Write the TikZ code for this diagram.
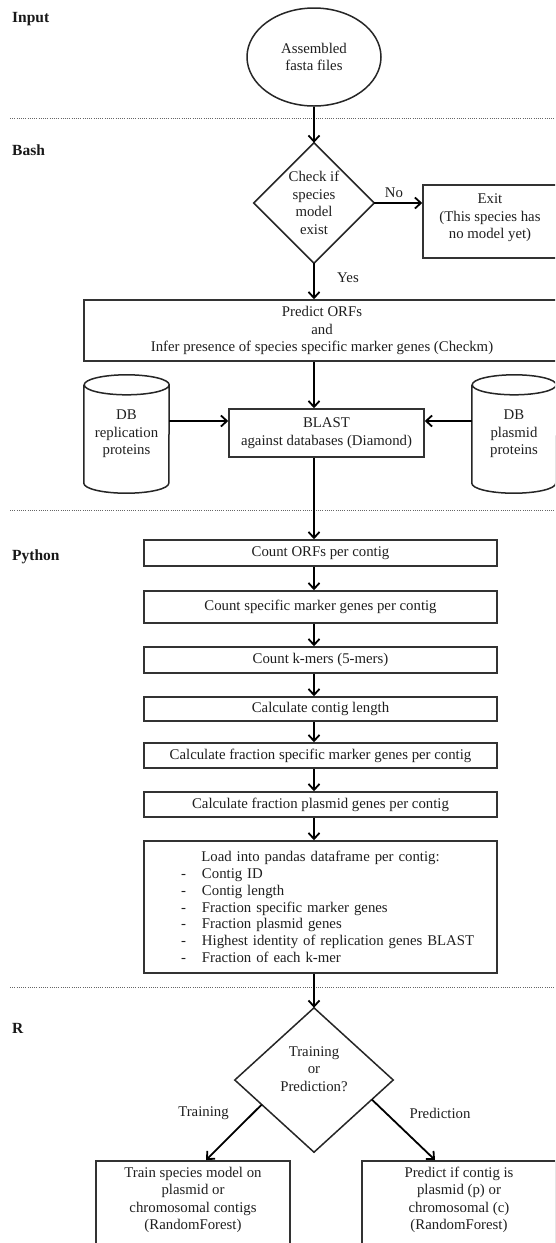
\documentclass[tikz,border=0pt]{standalone}
\usepackage{fontspec}
\setmainfont{Liberation Serif}
\usetikzlibrary{arrows.meta,calc,shapes.geometric}
\begin{document}
\begin{tikzpicture}[x=1pt,y=-1pt,
  base/.style={font=\fontsize{14.8pt}{17.5pt}\selectfont, text=black!88, inner sep=0pt, align=center},
  box/.style={base, draw=black!80, line width=1.5pt, rectangle},
  lbl/.style={font=\bfseries\fontsize{15.5pt}{18pt}\selectfont, text=black!90, anchor=west, inner sep=0pt},
  arr/.style={-{Straight Barb[length=6pt,width=11pt]}, line width=1.8pt, black},
  sep/.style={line width=1pt, dash pattern=on 1pt off 1.2pt, black!60},
  shapeline/.style={draw=black!85, line width=1.5pt}
]
\useasboundingbox (0,0) rectangle (555,1243);
\clip (0,0) rectangle (555,1243);
\fill[white] (0,0) rectangle (555,1243);

% lane labels
\node[lbl] (lin) at (12,19) {Input};
\node[lbl] (lbash) at (12,150) {Bash};
\node[lbl] (lpy) at (12,557) {Python};
\node[lbl] (lr) at (12,1028) {R};

% separators
\coordinate (s1l) at (10,118); \coordinate (s1r) at (555,118);
\coordinate (s2l) at (10,510); \coordinate (s2r) at (555,510);
\coordinate (s3l) at (10,987); \coordinate (s3r) at (555,987);
\draw[sep] (s1l) -- (s1r);
\draw[sep] (s2l) -- (s2r);
\draw[sep] (s3l) -- (s3r);

% axis helpers
\coordinate (ax) at (314,0);
\coordinate (ay) at (0,421);

% Input
\node[base, ellipse, draw=black!85, line width=1.5pt, minimum width=134pt, minimum height=98pt] (fasta) at (314,57) {Assembled\\fasta files};

% Bash
\node[base, minimum width=120pt, minimum height=120pt] (chk) at (314,203) {Check if\\species\\model\\exist};
\draw[shapeline] (chk.north) -- (chk.east) -- (chk.south) -- (chk.west) -- cycle;

\node[box, minimum width=134pt, minimum height=73pt] (exit) at (490,221.5) {};
\node[base] (exitT) at (490,218) {Exit\\(This species has\\no model yet)};
\node[base] (no) at (394,193) {No};
\node[base] (yes) at (348,278) {Yes};

\node[box, minimum width=476pt, minimum height=61pt] (orf) at (322,330.5) {Predict ORFs\\and\\Infer presence of species specific marker genes (Checkm)};

\node[base, minimum width=85pt, minimum height=118pt] (dbl) at (126.5,434) {DB\\replication\\proteins};
\node[base, minimum width=84pt, minimum height=118pt] (dbr) at (514,434) {DB\\plasmid\\proteins};
\draw[shapeline] ([yshift=-10pt]dbl.north west) -- ([yshift=10pt]dbl.south west)
  arc[start angle=180,end angle=360,x radius=42.5pt,y radius=10pt]
  -- ([yshift=-10pt]dbl.north east)
  arc[start angle=0,end angle=180,x radius=42.5pt,y radius=10pt]
  arc[start angle=180,end angle=360,x radius=42.5pt,y radius=10pt];
\draw[shapeline] ([yshift=-10pt]dbr.north west) -- ([yshift=10pt]dbr.south west)
  arc[start angle=180,end angle=360,x radius=42pt,y radius=10pt]
  -- ([yshift=-10pt]dbr.north east)
  arc[start angle=0,end angle=180,x radius=42pt,y radius=10pt]
  arc[start angle=180,end angle=360,x radius=42pt,y radius=10pt];

\node[box, minimum width=195pt, minimum height=48pt] (blast) at (326.5,433) {BLAST\\against databases (Diamond)};

% Python
\node[box, minimum width=353pt, minimum height=26pt] (c1) at (320.5,553) {Count ORFs per contig};
\node[box, minimum width=353pt, minimum height=32pt] (c2) at (320.5,607) {Count specific marker genes per contig};
\node[box, minimum width=353pt, minimum height=26pt] (c3) at (320.5,660) {Count k-mers (5-mers)};
\node[box, minimum width=353pt, minimum height=24pt] (c4) at (320.5,709) {Calculate contig length};
\node[box, minimum width=353pt, minimum height=25pt] (c5) at (320.5,755.5) {Calculate fraction specific marker genes per contig};
\node[box, minimum width=353pt, minimum height=25pt] (c6) at (320.5,804.5) {Calculate fraction plasmid genes per contig};
\node[box, minimum width=353pt, minimum height=132pt, text width=353pt, align=left,
      font=\fontsize{14.8pt}{16.8pt}\selectfont] (load) at (320.5,907) {%
\centerline{Load into pandas dataframe per contig:}
\hspace*{37pt}\makebox[21pt][l]{-}Contig ID\\
\hspace*{37pt}\makebox[21pt][l]{-}Contig length\\
\hspace*{37pt}\makebox[21pt][l]{-}Fraction specific marker genes\\
\hspace*{37pt}\makebox[21pt][l]{-}Fraction plasmid genes\\
\hspace*{37pt}\makebox[21pt][l]{-}Highest identity of replication genes BLAST\\
\hspace*{37pt}\makebox[21pt][l]{-}Fraction of each k-mer};

% R
\node[minimum width=158pt, minimum height=144pt, inner sep=0pt] (dec) at (314,1080) {};
\draw[shapeline] (dec.north) -- (dec.east) -- (dec.south) -- (dec.west) -- cycle;
\node[base] (decT) at (314,1069) {Training\\or\\Prediction?};

\node[box, minimum width=194pt, minimum height=110pt, anchor=north] (train) at (193,1160) {};
\node[base] (trainT) at (193,1200) {Train species model on\\plasmid or\\chromosomal contigs\\(RandomForest)};
\node[box, minimum width=194pt, minimum height=110pt, anchor=north] (pred) at (459,1160) {};
\node[base] (predT) at (459,1200) {Predict if contig is\\plasmid (p) or\\chromosomal (c)\\(RandomForest)};

\node[base] (ltrain) at (203.5,1113) {Training};
\node[base] (lpred) at (440,1113) {Prediction};

\coordinate (tl) at ($(dec.west)!0.34!(dec.south)$);
\coordinate (tr) at ($(dec.east)!0.27!(dec.south)$);

% connectors
\draw[arr] (fasta.south) -- (chk.north);
\draw[arr] (chk.east) -- (chk.east -| exit.west);
\draw[arr] (chk.south) -- (chk.south |- orf.north);
\draw[arr] (orf.south -| ax) -- (blast.north -| ax);
\draw[arr] (dbl.east |- ay) -- (blast.west |- ay);
\draw[arr] (dbr.west |- ay) -- (blast.east |- ay);
\draw[arr] (blast.south -| ax) -- (c1.north -| ax);
\draw[arr] (c1.south -| ax) -- (c2.north -| ax);
\draw[arr] (c2.south -| ax) -- (c3.north -| ax);
\draw[arr] (c3.south -| ax) -- (c4.north -| ax);
\draw[arr] (c4.south -| ax) -- (c5.north -| ax);
\draw[arr] (c5.south -| ax) -- (c6.north -| ax);
\draw[arr] (c6.south -| ax) -- (load.north -| ax);
\draw[arr] (load.south -| ax) -- (dec.north);
\draw[arr] (tl) -- ($(train.north)+(13,0)$);
\draw[arr] (tr) -- ($(pred.north)+(-24,0)$);
\end{tikzpicture}
\end{document}
